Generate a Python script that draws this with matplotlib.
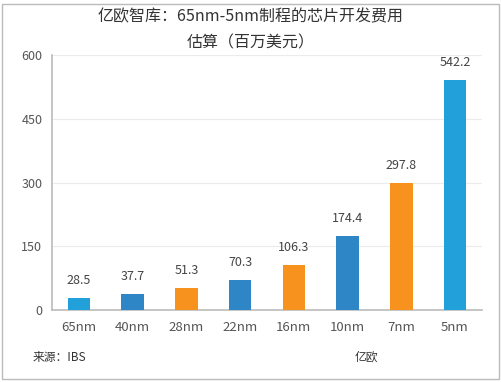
import matplotlib
matplotlib.use("Agg")
import matplotlib.pyplot as plt
from matplotlib.patches import Rectangle

plt.rcParams['font.family'] = ['Noto Sans CJK SC', 'DejaVu Sans']

categories = ["65nm", "40nm", "28nm", "22nm", "16nm", "10nm", "7nm", "5nm"]
values = [28.5, 37.7, 51.3, 70.3, 106.3, 174.4, 297.8, 542.2]
colors = ["#22a0d9", "#2f86c6", "#f7921e", "#2f86c6", "#f7921e", "#2f86c6", "#f7921e", "#22a0d9"]
yticks = [0, 150, 300, 450, 600]

fig = plt.figure(figsize=(5.02, 3.82), dpi=100)
ax = fig.add_axes([0.1036, 0.1885, 0.8564, 0.6675])

x = range(len(categories))
bars = ax.bar(x, values, width=0.42, color=colors, zorder=3)
for xi, v in zip(x, values):
    ax.text(xi, v + 26, f"{v}", ha='center', va='bottom', fontsize=9, color='#444444')

ax.set_xlim(-0.5, len(categories) - 0.5)
ax.set_ylim(0, 600)
ax.set_yticks(yticks)
ax.set_yticklabels([str(t) for t in yticks], fontsize=9, color='#555555')
ax.set_xticks(list(x))
ax.set_xticklabels(categories, fontsize=9.5, color='#555555')
ax.tick_params(axis='both', length=0, pad=8)
ax.tick_params(axis='y', pad=7)
ax.grid(axis='y', color='#ebebeb', linewidth=0.8, zorder=0)
for s in ['top', 'right']:
    ax.spines[s].set_visible(False)
ax.spines['left'].set_color('#bbbbbb')
ax.spines['bottom'].set_color('#bbbbbb')
ax.spines['left'].set_linewidth(1.2)
ax.spines['bottom'].set_linewidth(1.2)

fig.text(0.5, 1 - 17/382, "亿欧智库：65nm-5nm制程的芯片开发费用", ha='center', va='center', fontsize=11.5, color='#333333')
fig.text(0.5, 1 - 43/382, "估算（百万美元）", ha='center', va='center', fontsize=11.5, color='#333333')

fig.text(33/502, 1 - 357/382, "来源：IBS", ha='left', va='center', fontsize=8.5, color='#333333')
fig.text(355/502, 1 - 357/382, "亿欧", ha='left', va='center', fontsize=8.5, color='#333333')

fig.patches.append(Rectangle((2/502, 3/382), 497/502, 375/382, transform=fig.transFigure,
                             fill=False, edgecolor='#bbbbbb', linewidth=1))

fig.savefig("out.png", dpi=100)
